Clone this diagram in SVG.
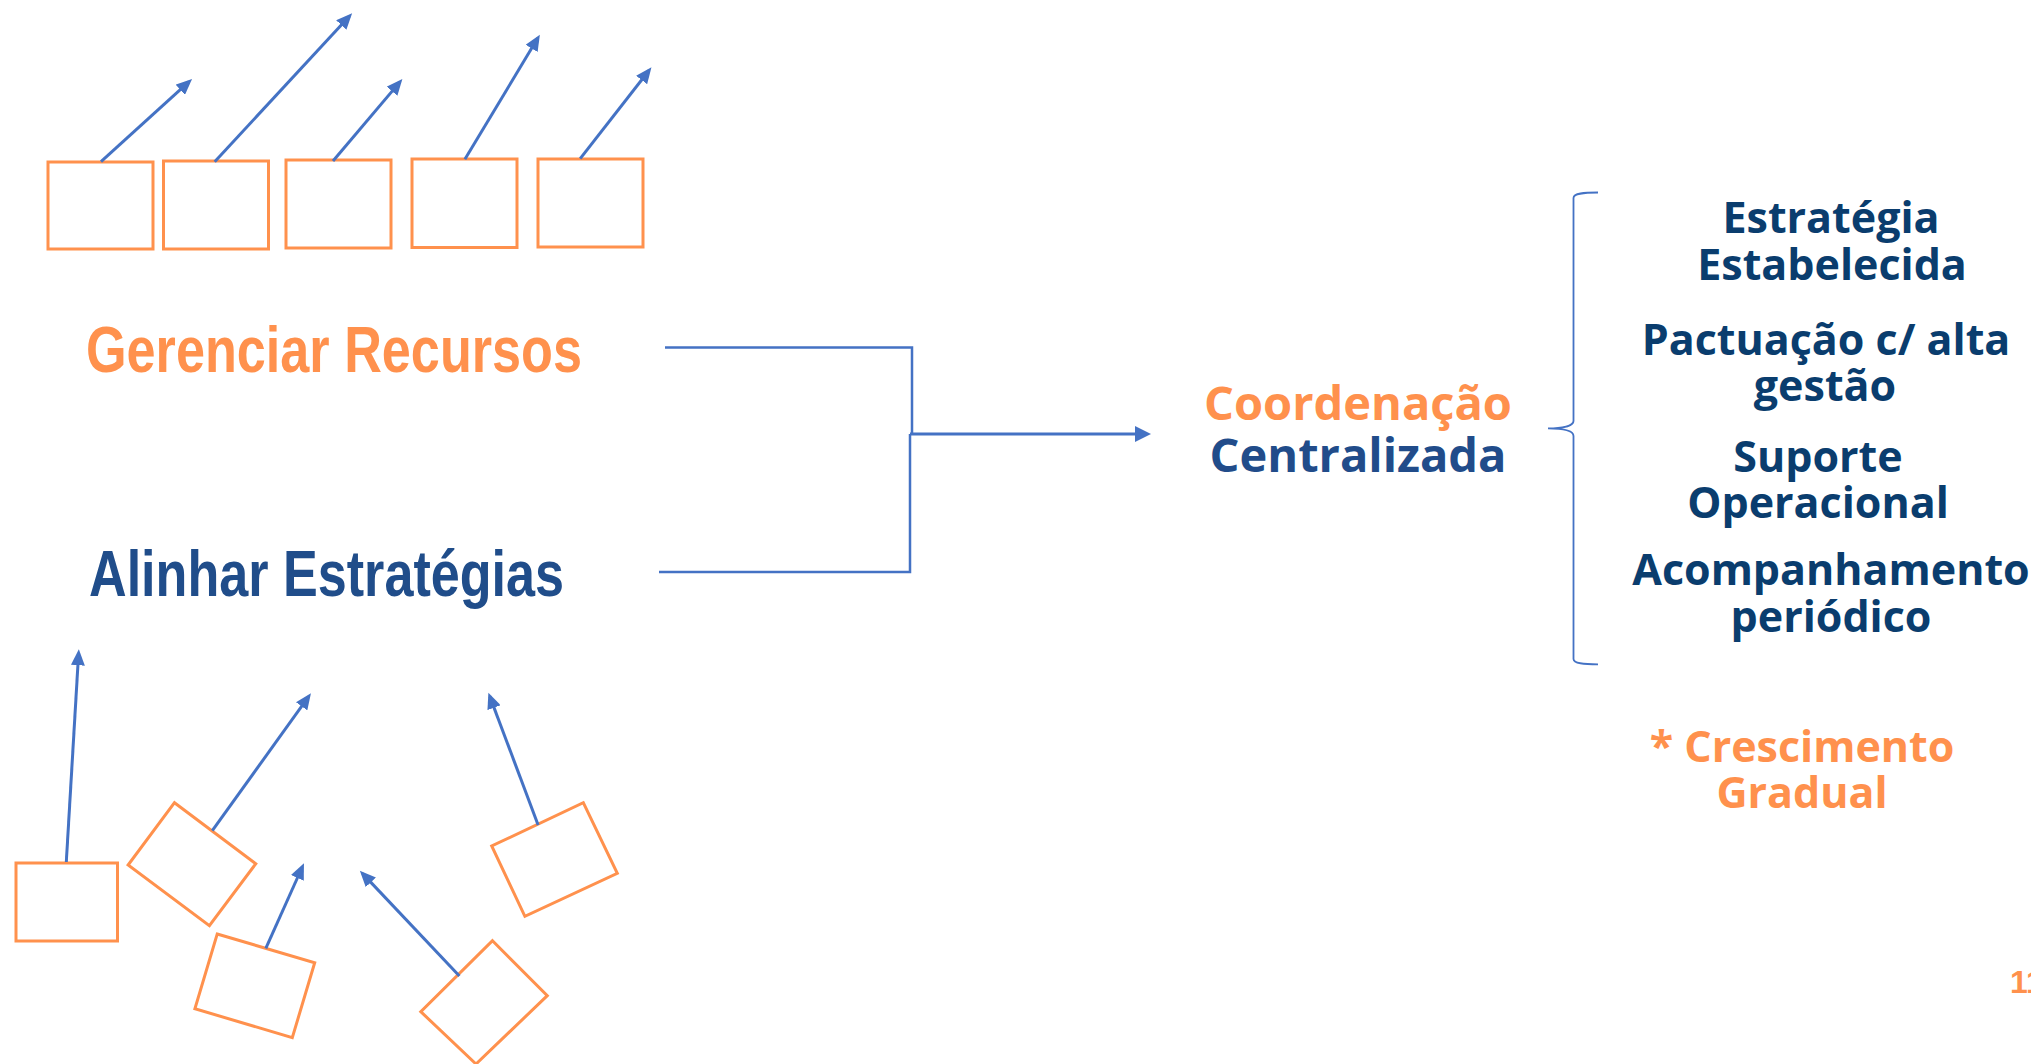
<svg xmlns="http://www.w3.org/2000/svg" width="2031" height="1064" viewBox="0 0 2031 1064">
<style>
.box{fill:none;stroke:#FF914D;stroke-width:3}
.arr{fill:none;stroke:#4472C4;stroke-width:3;marker-end:url(#ah)}
.con{fill:none;stroke:#4472C4;stroke-width:2.5}
.brace{fill:none;stroke:#4472C4;stroke-width:1.8}
.lbl{font-family:"Liberation Sans",Arial,sans-serif;font-weight:bold}
.ot{font-family:"Open Sans","Noto Sans",sans-serif;font-weight:bold;text-anchor:middle}
.navy{fill:#0A3D6E}
.orange{fill:#FF914D}
.blue{fill:#214C8A}
</style>
<defs>
<marker id="ah" markerUnits="userSpaceOnUse" markerWidth="17" markerHeight="14" refX="12" refY="7" orient="auto">
<path d="M0,0 L16,7 L0,14 Z" fill="#4472C4"/>
</marker>
<marker id="ahb" markerUnits="userSpaceOnUse" markerWidth="17" markerHeight="16" refX="12" refY="8" orient="auto">
<path d="M0,0 L16,8 L0,16 Z" fill="#4472C4"/>
</marker>
</defs>
<rect width="2031" height="1064" fill="#FFFFFF"/>

<g id="top-boxes">
<rect class="box" x="48" y="162" width="105" height="87"/>
<rect class="box" x="163.5" y="161" width="105" height="88"/>
<rect class="box" x="286" y="160" width="105" height="88"/>
<rect class="box" x="412" y="159" width="105" height="88.5"/>
<rect class="box" x="538" y="159" width="105" height="88"/>
</g>

<g id="bottom-boxes">
<rect class="box" x="16" y="863" width="101.5" height="78"/>
<polygon class="box" points="174.5,802.7 255.8,863.7 209.4,925.7 128.1,865"/>
<polygon class="box" points="217.2,934 314.7,962.7 292.3,1037.7 194.9,1008.7"/>
<polygon class="box" points="492.5,940.7 547.3,995.7 476,1064 420.8,1011.7"/>
<polygon class="box" points="583.3,802.7 617.3,873.3 524.9,916.3 491.7,846"/>
</g>

<g id="small-arrows">
<line class="arr" x1="101" y1="161.7" x2="189.1" y2="81.7"/>
<line class="arr" x1="214.7" y1="161.7" x2="349.4" y2="16.2"/>
<line class="arr" x1="333" y1="161" x2="399.8" y2="82.1"/>
<line class="arr" x1="464.9" y1="159.3" x2="537.8" y2="38.1"/>
<line class="arr" x1="580.2" y1="158.7" x2="649" y2="70.5"/>
<line class="arr" x1="66.3" y1="862" x2="78.6" y2="653.3"/>
<line class="arr" x1="212.3" y1="830.7" x2="308.6" y2="696.6"/>
<line class="arr" x1="265.8" y1="948.3" x2="302.3" y2="867"/>
<line class="arr" x1="459.4" y1="976" x2="362.6" y2="873.6"/>
<line class="arr" x1="538.1" y1="825" x2="489.8" y2="696.4"/>
</g>

<g id="gerenciar">
<text class="lbl orange" x="86" y="372" font-size="65" textLength="496" lengthAdjust="spacingAndGlyphs">Gerenciar Recursos</text>
</g>
<g id="alinhar">
<text class="lbl" fill="#204D8A" x="89" y="596" font-size="64" textLength="475" lengthAdjust="spacingAndGlyphs">Alinhar Estratégias</text>
</g>

<g id="connectors">
<polyline class="con" points="665,347.5 912,347.5 912,434"/>
<polyline class="con" points="659,572 910,572 910,434"/>
<line class="con" x1="910" y1="434" x2="1147" y2="434" style="stroke-width:3;marker-end:url(#ahb)"/>
</g>

<g id="coordenacao">
<text class="ot orange" x="1358" y="420" font-size="47">Coordenação</text>
<text class="ot blue" x="1358" y="472" font-size="47">Centralizada</text>
</g>

<g id="brace">
<path class="brace" d="M1598,192.5 C1584,192.5 1573.5,193 1573.5,198 L1573.5,421 C1573.5,426 1562,428.3 1548,428.3 C1562,428.3 1573.5,430.5 1573.5,436 L1573.5,659 C1573.5,663.5 1584,664.3 1598,664.3"/>
</g>

<g id="items">
<text class="ot navy" x="1831" y="233" font-size="43">Estratégia</text>
<text class="ot navy" x="1832" y="280" font-size="43">Estabelecida</text>
<text class="ot navy" x="1826" y="355" font-size="43">Pactuação c/ alta</text>
<text class="ot navy" x="1825" y="401" font-size="43">gestão</text>
<text class="ot navy" x="1818" y="472" font-size="43">Suporte</text>
<text class="ot navy" x="1818" y="518" font-size="43">Operacional</text>
<text class="ot navy" x="1831" y="585" font-size="43">Acompanhamento</text>
<text class="ot navy" x="1831" y="632" font-size="43">periódico</text>
</g>

<g id="crescimento">
<text class="ot orange" x="1802" y="762" font-size="43">* Crescimento</text>
<text class="ot orange" x="1802" y="808" font-size="43">Gradual</text>
</g>

<g id="page-number">
<text class="lbl orange" x="2010" y="993" font-size="32">11</text>
</g>
</svg>
